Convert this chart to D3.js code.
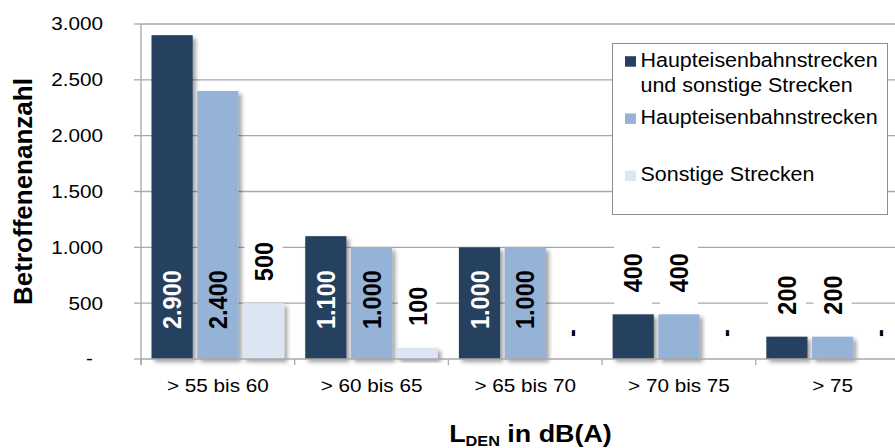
<!DOCTYPE html>
<html><head><meta charset="utf-8">
<script src="https://cdn.jsdelivr.net/npm/d3@7"></script>
<style>
html,body{margin:0;padding:0;background:#fff;overflow:hidden}
svg{display:block;font-family:"Liberation Sans",Arial,sans-serif}
</style>
</head><body>
<svg id="chart" width="895" height="448"></svg>
<script>
// ---- data ----
const categories = ["> 55 bis 60", "> 60 bis 65", "> 65 bis 70", "> 70 bis 75", "> 75"];
const seriesNames = [["Haupteisenbahnstrecken", "und sonstige Strecken"], ["Haupteisenbahnstrecken"], ["Sonstige Strecken"]];
const valuesAll = [2900, 1100, 1000, 400, 200];
const valuesHaupt = [2400, 1000, 1000, 400, 200];
const valuesSonst = [500, 100, 0, 0, 0];
const yTickValues = [0, 500, 1000, 1500, 2000, 2500, 3000];
const yTitle = "Betroffenenanzahl";
const xTitleMain = "L", xTitleSub = "DEN", xTitleRest = " in dB(A)";

// ---- styles ----
const colors = ["#254061", "#95b3d7", "#dce6f2"];
const insideLabelColors = ["#ffffff", "#000000", "#000000"];
const gridColor = "#a8a8a8";
const SX_TICK = 1.15, SX_LBL = 1.12, SX_LEG = 1.1;

const series = [valuesAll, valuesHaupt, valuesSonst];
const svg = d3.select("#chart");

const de = d3.formatLocale({decimal: ",", thousands: ".", grouping: [3], currency: ["", "€"]});
const fmt = v => v === 0 ? "-" : de.format(",")(v);

const plot = {left: 141, top: 24, bottom: 359, catStep: 153.7};
const x0 = d3.scaleBand().domain(categories)
  .range([plot.left, plot.left + plot.catStep * categories.length]).padding(0);
const x1 = d3.scaleBand().domain(d3.range(series.length))
  .range([0, x0.bandwidth()]).paddingInner(0.1).paddingOuter(0.23);
const y = d3.scaleLinear().domain([0, 3000]).range([plot.bottom, plot.top]);

// defs: shadow
const defs = svg.append("defs");
const f = defs.append("filter").attr("id", "shadow")
  .attr("x", "-30%").attr("y", "-30%").attr("width", "180%").attr("height", "160%");
f.append("feDropShadow").attr("dx", 3).attr("dy", 3).attr("stdDeviation", 2)
  .attr("flood-color", "#000").attr("flood-opacity", 0.38);

// gridlines
const gridG = svg.append("g");
gridG.selectAll("line").data(yTickValues.filter(v => v > 0)).join("line")
  .attr("x1", plot.left).attr("x2", 895)
  .attr("y1", d => y(d)).attr("y2", d => y(d))
  .attr("stroke", gridColor).attr("stroke-width", 1.3);

// y axis line + ticks
const yAxis = svg.append("g");
yAxis.append("line").attr("x1", plot.left).attr("x2", plot.left)
  .attr("y1", plot.top).attr("y2", plot.bottom + 6)
  .attr("stroke", gridColor).attr("stroke-width", 1.3);
yAxis.selectAll("line.t").data(yTickValues).join("line").attr("class", "t")
  .attr("x1", plot.left - 7).attr("x2", plot.left)
  .attr("y1", d => y(d)).attr("y2", d => y(d))
  .attr("stroke", gridColor).attr("stroke-width", 1.3);
yAxis.selectAll("text").data(yTickValues).join("text")
  .attr("transform", d => `translate(${d === 0 ? 93 : 103},${y(d)}) scale(${SX_TICK},1)`)
  .attr("text-anchor", "end").attr("dy", "0.36em")
  .attr("font-size", 18).attr("fill", "#000")
  .text(d => fmt(d));

// bars
const barsG = svg.append("g");
series.forEach((vals, si) => {
  barsG.selectAll(null).data(vals.map((v, ci) => ({v, ci})).filter(d => d.v > 0)).join("rect")
    .attr("x", d => x0(categories[d.ci]) + x1(si))
    .attr("width", x1.bandwidth())
    .attr("y", d => y(d.v))
    .attr("height", d => y(0) - y(d.v))
    .attr("fill", colors[si])
    .attr("filter", "url(#shadow)");
});

// x axis line + ticks
const xAxis = svg.append("g");
xAxis.append("line").attr("x1", plot.left).attr("x2", 895)
  .attr("y1", plot.bottom).attr("y2", plot.bottom)
  .attr("stroke", gridColor).attr("stroke-width", 1.3);
xAxis.selectAll("line.t").data(d3.range(categories.length + 1)).join("line").attr("class", "t")
  .attr("x1", i => plot.left + i * x0.step()).attr("x2", i => plot.left + i * x0.step())
  .attr("y1", plot.bottom).attr("y2", plot.bottom + 6)
  .attr("stroke", gridColor).attr("stroke-width", 1.3);
xAxis.selectAll("text").data(categories).join("text")
  .attr("transform", d => `translate(${x0(d) + x0.bandwidth() / 2},391.5) scale(${SX_TICK},1)`)
  .attr("text-anchor", "middle").attr("font-size", 18).attr("fill", "#000")
  .text(d => d);

// data labels
const lblG = svg.append("g");
const boxG = lblG.append("g");
const txtG = lblG.append("g");
series.forEach((vals, si) => {
  vals.forEach((v, ci) => {
    const cx = x0(categories[ci]) + x1(si) + x1.bandwidth() / 2;
    const top = y(v), h = y(0) - y(v);
    const t = txtG.append("text")
      .attr("font-size", 23.5).attr("font-weight", "bold")
      .attr("text-anchor", "start").attr("dy", "0.35em")
      .text(fmt(v));
    const len = t.node().getComputedTextLength();
    if (h > len + 40) {
      t.attr("transform", `translate(${cx},${plot.bottom - 30}) scale(${SX_LBL},1) rotate(-90)`)
        .attr("fill", insideLabelColors[si]);
    } else {
      const start = top - 22;
      t.attr("transform", `translate(${cx},${start}) scale(${SX_LBL},1) rotate(-90)`)
        .attr("fill", "#000");
      boxG.append("rect")
        .attr("x", cx - 19).attr("width", 38)
        .attr("y", start - len - 10).attr("height", len + 24)
        .attr("fill", "#fff");
    }
  });
});

// axis titles
svg.append("text")
  .attr("transform", `translate(31.5,${(plot.top + plot.bottom) / 2}) rotate(-90)`)
  .attr("text-anchor", "middle").attr("font-size", 26).attr("font-weight", "bold")
  .text(yTitle);

const xt = svg.append("text")
  .attr("transform", `translate(530.5,442) scale(${SX_LBL},1)`)
  .attr("text-anchor", "middle").attr("font-size", 24).attr("font-weight", "bold");
xt.append("tspan").text(xTitleMain);
xt.append("tspan").attr("font-size", 14.5).attr("dy", 4).text(xTitleSub);
xt.append("tspan").attr("dy", -4).text(xTitleRest);

// legend
const leg = svg.append("g");
leg.append("rect").attr("x", 612.5).attr("y", 43.5).attr("width", 275).attr("height", 171)
  .attr("fill", "#fff").attr("stroke", "#8c8c8c").attr("stroke-width", 1);
const legItem = leg.selectAll("g").data(seriesNames).join("g")
  .attr("transform", (d, i) => `translate(0,${66.7 + i * 57.2})`);
legItem.append("rect").attr("x", 625).attr("y", -10.5).attr("width", 11).attr("height", 10.5)
  .attr("fill", (d, i) => colors[i]);
legItem.each(function(lines) {
  const g = d3.select(this);
  lines.forEach((line, li) => {
    g.append("text")
      .attr("transform", `translate(640.5,${li * 25}) scale(${SX_LEG},1)`)
      .attr("font-size", 19.5).attr("fill", "#000").text(line);
  });
});
</script>
</body></html>
